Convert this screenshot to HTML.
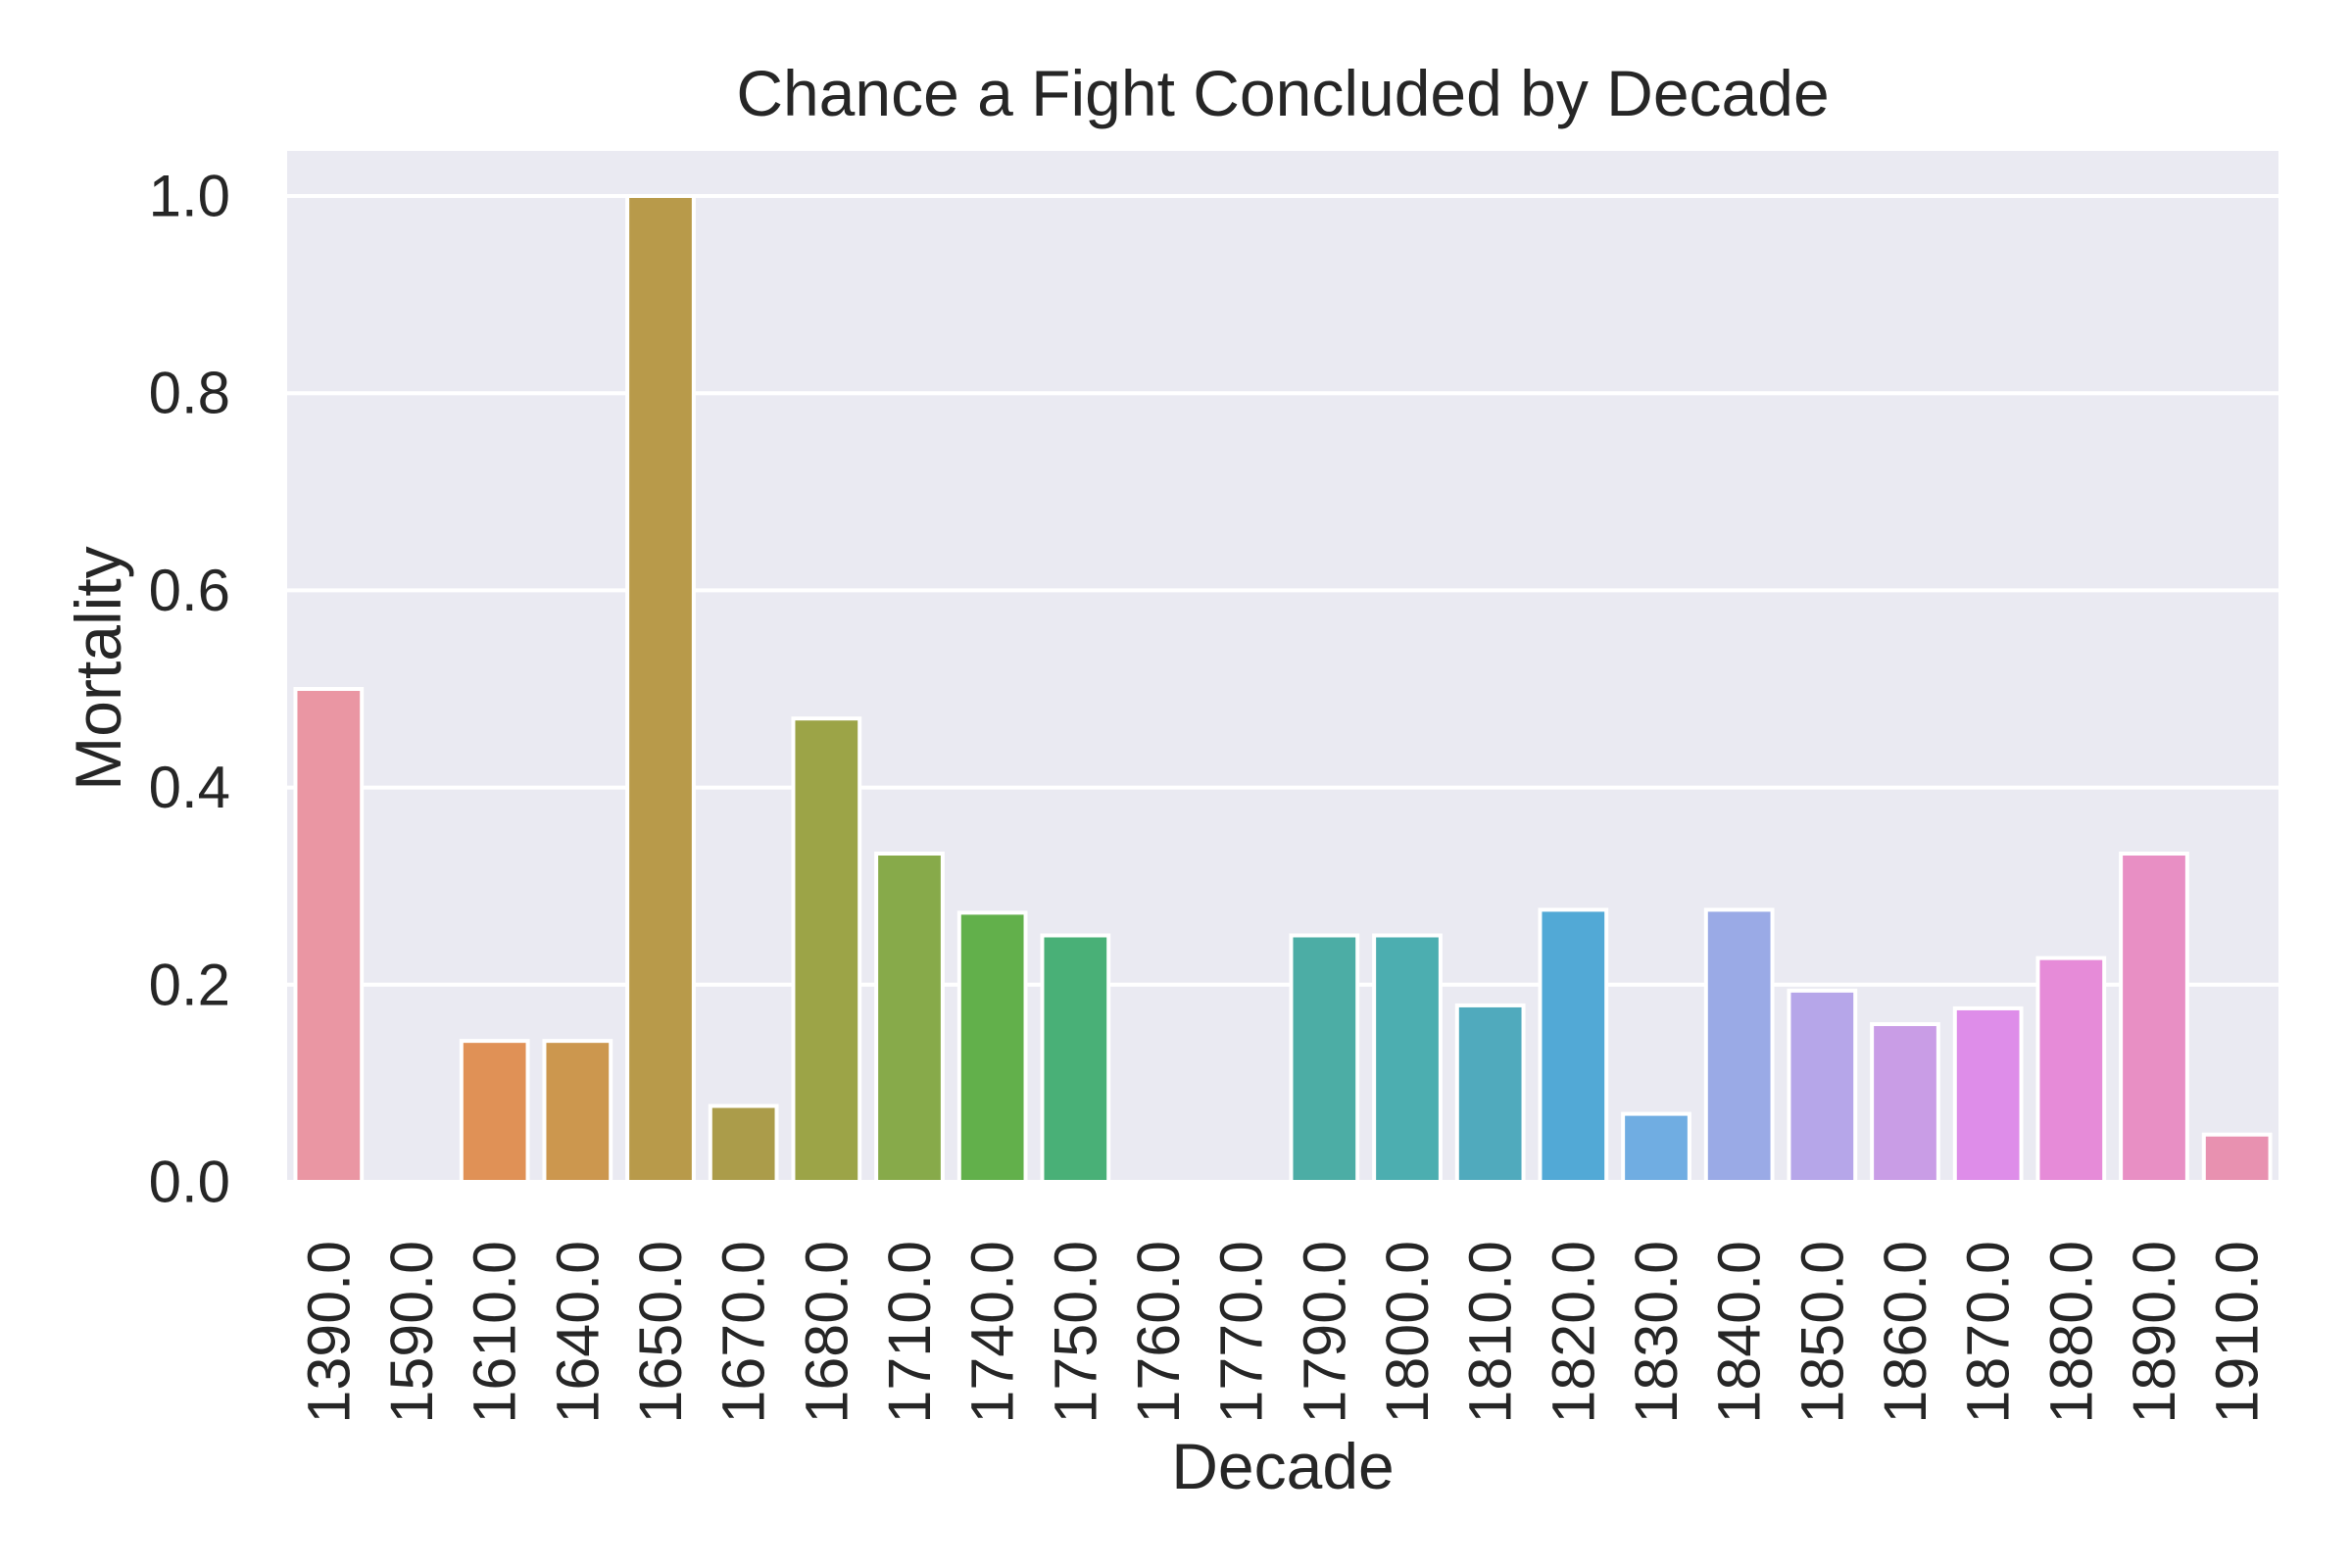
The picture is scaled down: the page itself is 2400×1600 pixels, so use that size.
<!DOCTYPE html>
<html><head><meta charset="utf-8"><style>
html,body{margin:0;padding:0;background:#fff;}
svg{display:block;font-family:"Liberation Sans",Arial,sans-serif;}
</style></head><body>
<svg id="chart" width="2400" height="1600" viewBox="0 0 2400 1600">
<rect x="0" y="0" width="2400" height="1600" fill="#fff"/>
<rect x="293" y="154" width="2032" height="1052" fill="#eaeaf2"/>
<g id="grid"></g>
<g id="bars"></g>
<g id="yticks"></g>
<g id="xticks"></g>
<text x="1309" y="95" font-size="66" fill="#262626" text-anchor="middle" dominant-baseline="central">Chance a Fight Concluded by Decade</text>
<text x="1309" y="1496" font-size="66" fill="#262626" text-anchor="middle" dominant-baseline="central">Decade</text>
<text x="100" y="682" font-size="66" fill="#262626" text-anchor="middle" dominant-baseline="central" transform="rotate(-90 100 682)">Mortality</text>
</svg>
<script>
const categories = ["1390.0","1590.0","1610.0","1640.0","1650.0","1670.0","1680.0","1710.0","1740.0","1750.0","1760.0","1770.0","1790.0","1800.0","1810.0","1820.0","1830.0","1840.0","1850.0","1860.0","1870.0","1880.0","1890.0","1910.0"];
const values = [0.5,0,0.143,0.143,1.0,0.077,0.47,0.333,0.273,0.25,0,0,0.25,0.25,0.179,0.276,0.069,0.276,0.194,0.16,0.176,0.227,0.333,0.048];
const colors = ["#ea96a3","#e5917a","#e09156","#cc974e","#b89a4a","#ab9c4a","#9ca447","#87aa4a","#62b04b","#49b077","#4aaf90","#4bae9c","#4cada5","#4caeb0","#50aabd","#52a9d6","#70ade2","#9aaae6","#b6a6e9","#c99de6","#de8de9","#e68bd8","#e88fc4","#e891b0"];
const yTicks = [0,0.2,0.4,0.6,0.8,1.0];
const yTickLabels = ["0.0","0.2","0.4","0.6","0.8","1.0"];

const NS = "http://www.w3.org/2000/svg";
const L = 293, R = 2325, T = 154, B = 1206;
const Y0 = 1206, Y1 = 200;
const slot = (R - L) / categories.length;
function xCenter(i){ return L + slot * (i + 0.5); }
function yScale(v){ return Y0 + (Y1 - Y0) * v; }

const grid = document.getElementById('grid');
const yt = document.getElementById('yticks');
yTicks.forEach((t, i) => {
  const y = yScale(t);
  const ln = document.createElementNS(NS, 'line');
  ln.setAttribute('x1', L); ln.setAttribute('x2', R);
  ln.setAttribute('y1', y); ln.setAttribute('y2', y);
  ln.setAttribute('stroke', '#fff'); ln.setAttribute('stroke-width', '4');
  
  
  grid.appendChild(ln);
  const tx = document.createElementNS(NS, 'text');
  tx.setAttribute('x', 235); tx.setAttribute('y', y);
  tx.setAttribute('font-size', '60'); tx.setAttribute('fill', '#262626');
  tx.setAttribute('text-anchor', 'end'); tx.setAttribute('dominant-baseline', 'central');
  tx.textContent = yTickLabels[i];
  
  
  yt.appendChild(tx);
});

const bars = document.getElementById('bars');
const xt = document.getElementById('xticks');
const bw = slot * 0.8;
categories.forEach((c, i) => {
  const cx = xCenter(i);
  const v = values[i];
  if (v > 0) {
    const r = document.createElementNS(NS, 'rect');
    const y = yScale(v);
    r.setAttribute('x', cx - bw / 2); r.setAttribute('y', y);
    r.setAttribute('width', bw); r.setAttribute('height', Y0 - y);
    r.setAttribute('fill', colors[i]); r.setAttribute('stroke', '#fff'); r.setAttribute('stroke-width', '4');
    
    
    bars.appendChild(r);
  }
  const tx = document.createElementNS(NS, 'text');
  tx.setAttribute('x', cx); tx.setAttribute('y', 1266);
  tx.setAttribute('font-size', '61'); tx.setAttribute('fill', '#262626');
  tx.setAttribute('text-anchor', 'end'); tx.setAttribute('dominant-baseline', 'central');
  tx.setAttribute('transform', 'rotate(-90 ' + cx + ' 1266)');
  tx.textContent = c;
  
  
  xt.appendChild(tx);
});
</script>
</body></html>
